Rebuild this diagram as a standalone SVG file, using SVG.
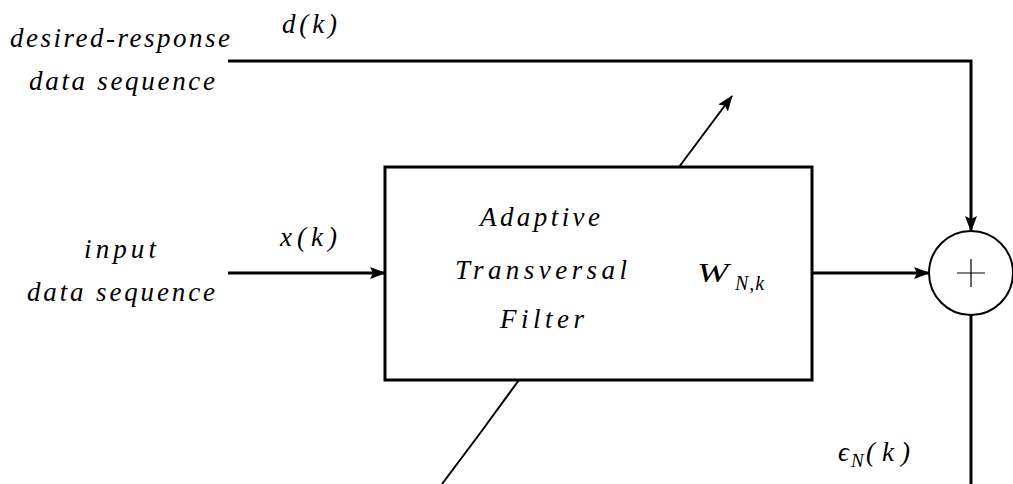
<svg xmlns="http://www.w3.org/2000/svg" width="1013" height="484" viewBox="0 0 1013 484">
<style>
.w{fill:none;stroke:#000;stroke-width:3}
.n{fill:none;stroke:#000;stroke-width:2}
</style>
<defs>
<marker id="ah" markerUnits="userSpaceOnUse" markerWidth="16" markerHeight="12" refX="15" refY="6" orient="auto">
<path d="M0,0 L16,6 L0,12 L3,6 Z" fill="#000"/>
</marker>
</defs>
<rect width="1013" height="484" fill="#fff"/>
<g id="labels" font-family="Liberation Serif" font-style="italic" font-size="27" fill="#000">
<text x="10" y="47" textLength="220" lengthAdjust="spacing">desired-response</text>
<text x="29" y="90" textLength="186" lengthAdjust="spacing">data sequence</text>
<text x="282" y="33" textLength="55" lengthAdjust="spacing">d(k)</text>
<text x="84" y="258" textLength="72" lengthAdjust="spacing">input</text>
<text x="27" y="301" textLength="188" lengthAdjust="spacing">data sequence</text>
<text x="280" y="246" textLength="57" lengthAdjust="spacing">x(k)</text>
<text x="838" y="461">ϵ</text>
<text x="851" y="467" font-size="19">N</text>
<text x="866" y="461" textLength="44" lengthAdjust="spacing">(k)</text>
</g>
<g id="filter">
<rect class="w" x="385" y="167" width="427" height="213"/>
<g font-family="Liberation Serif" font-style="italic" font-size="27" fill="#000">
<text x="480" y="226" textLength="120" lengthAdjust="spacing">Adaptive</text>
<text x="455" y="279" textLength="172" lengthAdjust="spacing">Transversal</text>
<text x="500" y="328" textLength="84" lengthAdjust="spacing">Filter</text>
<text transform="translate(697,282) scale(1.35,1)" x="0" y="0" font-size="28">W</text>
<text x="735" y="290" font-size="20" letter-spacing="1">N,k</text>
</g>
</g>
<g id="sum">
<circle class="n" cx="971" cy="273" r="42"/>
<path d="M957,273 H985 M971,259 V287" stroke="#000" stroke-width="1.2" fill="none"/>
</g>
<g id="connectors">
<path class="w" d="M228,61 H971 V231" marker-end="url(#ah)"/>
<path class="w" d="M228,273 H385" marker-end="url(#ah)"/>
<path class="w" d="M812,273 H929" marker-end="url(#ah)"/>
<path class="w" d="M971,315 V484"/>
<path class="n" d="M679,167 L732,96" marker-end="url(#ah)"/>
<path class="n" d="M519,380 L481,432 L442,484"/>
</g>
</svg>
